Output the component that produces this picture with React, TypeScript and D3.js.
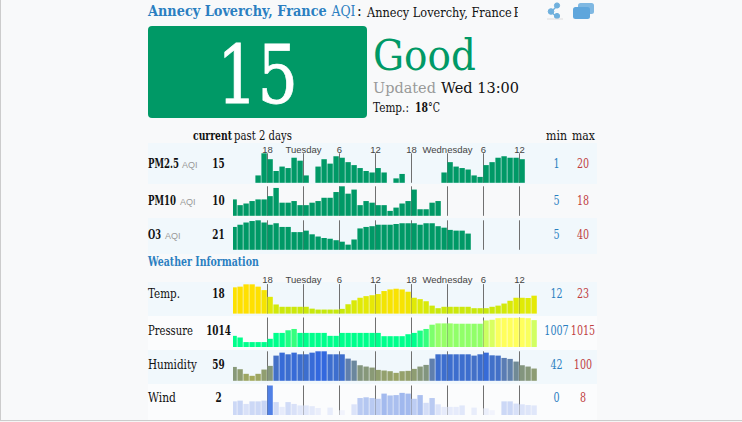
import React from "react";
import * as d3 from "d3";

const pm25: (number | null)[] = [null,null,null,null,5,20,16,8,11,10,17,15,5,null,11,16,13,18,17,14,12,10,8,7,10,7,null,3,6,null,null,null,null,null,null,7,14,11,10,9,5,4,12,14,17,18,17,17,16];
const pm10: number[] = [10,6.5,7.5,9,10,10,12,17,8,8,9,6.5,6.5,8,9,11,11,14.5,18,13.5,16,6.5,9,8,6.5,6.5,3,5,7.5,9,16,4,4,8,9];
const o3: number[] = [31,34,37,39,40,37,34,36,31,31,24,24,26,21,18,16,15,13,11,7,14,29,31,32,34,34,34,35,36,36,36,34,36,36,32,30,27,26,26,22];
const temp: number[] = [21.6,21.9,22.9,22.9,21.9,20.4,17.5,14.2,13.2,13.2,13.2,13.2,13.2,12.4,12,12,12,12,12.3,14.3,16,17.1,17.8,18.2,18.7,20,20.7,21,20.7,19.7,17.1,16.5,15.6,13.7,12.6,13.2,13.2,13.2,13.2,13.2,12.6,12.6,12.6,13.2,13.7,14.6,15.8,17.1,17.1,17,18];
const pressure: number[] = [1009.4,1008.9,1007.5,1007.5,1007.5,1007.5,1008.5,1010.3,1010.3,1011.1,1011.5,1010.3,1010.3,1010.3,1010.3,1010.3,1009.4,1009.4,1010.3,1010.3,1010.3,1010.3,1010.3,1010.3,1010.3,1009.3,1009.3,1009.3,1009.3,1009.9,1010.3,1011,1011.5,1012.8,1013.2,1013.2,1013.2,1013.1,1013.1,1013.1,1013.1,1013.1,1014.1,1014.3,1014.8,1014.9,1014.9,1014.9,1014.9,1014.8,1014.2];
const humidity: number[] = [63,57.6,46.7,42,46.7,56.8,65.5,89.8,96.8,92.9,96.8,92.9,92.9,96.8,100,100,92.9,92.9,92.9,82.7,78,67,63.9,61.5,56,54.5,52.9,49,52.9,53.7,58.4,63.9,67.8,82.7,92.9,92.9,92.9,92.9,92.9,92.9,89.8,92.9,96.8,90.5,89.8,84.3,82,75.7,67,63.9,59.2];
const wind: (number | null)[] = [3.7,3.9,3,3.7,3.7,3.9,8,3.5,2.2,3.5,3,2.6,2.6,2.4,1.9,null,2,null,1.3,null,2.9,4.6,4.8,4.6,4.4,5.8,5.3,5.4,6,5.8,4.4,5.4,3.3,4.6,2.9,2.2,2.2,2.2,2.6,null,2,null,1.8,1.3,null,3.7,3.7,3.1,2.9,2.7,2.6];

const tickHours = [6, 12, 18, 24, 30, 36, 42, 48];
const tickLabels = ["18", "Tuesday", "6", "12", "18", "Wednesday", "6", "12"];

const title = "Annecy Loverchy, France";
const aqiValue = "15";
const aqiLabel = "Good";

const serif = "'DejaVu Serif', serif";
const sans = "'Liberation Sans', Arial, sans-serif";
const BLUE = "#2b7fc1";
const RED = "#c0403f";
const GREEN = "#009966";

const x = d3.scaleLinear().domain([0, 51]).range([231, 537]);
const barW = 5.4;

const green = () => GREEN;
const tempColor = d3.scaleLinear<string>().domain([12, 17.5, 22]).range(["#c6e80c", "#e2ea06", "#ffe000"]).clamp(true);
const presColor = d3.scaleLinear<string>().domain([1010.5, 1012.8, 1013.2, 1014.1, 1014.9]).range(["#00ff8c", "#7dff6c", "#97ff68", "#ccff62", "#ffff5c"]).clamp(true);
const humColor = d3.scaleLinear<string>().domain([42, 70, 83, 90, 100]).range(["#a3aa5c", "#7f9382", "#5f7fae", "#4270c8", "#3268de"]).clamp(true);
const windColor = d3.scaleLinear<string>().domain([1, 2.5, 3.7, 5, 6, 8]).range(["#f5f6fd", "#e2e8fa", "#ccd8f6", "#b0c4f0", "#a0b8ee", "#5080e6"]).clamp(true);

type RowDef = {
  values: (number | null)[];
  base: number;
  domain: [number, number];
  color: (v: number) => string;
};
const H = 29.5;
const rows: RowDef[] = [
  { values: pm25, base: 182.8, domain: [0, 20], color: green },
  { values: pm10, base: 215.8, domain: [0, 18], color: green },
  { values: o3, base: 249.8, domain: [0, 40], color: green },
  { values: temp, base: 313.6, domain: [10.26, 23], color: tempColor },
  { values: pressure, base: 347, domain: [1006, 1015], color: presColor },
  { values: humidity, base: 380.8, domain: [30.2, 100], color: humColor },
  { values: wind, base: 415, domain: [0, 8], color: windColor },
];

const ctx = document.createElement("canvas").getContext("2d")!;
function natural(t: string, size: number, bold: boolean | undefined, font: string) {
  ctx.font = `${bold ? 700 : 400} ${size}px ${font}`;
  return ctx.measureText(t).width;
}

type T = { t: string; x: number; y: number; w?: number; size?: number; bold?: boolean; fill?: string; font?: string; anchor?: "start" | "middle"; stroke?: number };
const Txt = ({ t, x: tx, y, w, size = 12, bold, fill = "#111", font = serif, anchor = "start", stroke }: T) => {
  const sx = w ? w / natural(t, size, bold, font) : 1;
  return (
    <text transform={`translate(${tx},${y}) scale(${sx},1)`} fontSize={size} fontFamily={font} fontWeight={bold ? 700 : 400} fill={fill} textAnchor={anchor}
      {...(stroke ? { stroke: fill, strokeWidth: stroke } : {})}>{t}</text>
  );
};

const sideRows = [
  { label: "PM2.5", w: 31, aqiX: 182, y: 167.7, cur: "15", min: "1", max: "20", bold: true },
  { label: "PM10", w: 28, aqiX: 180, y: 205, cur: "10", min: "5", max: "18", bold: true },
  { label: "O3", w: 13, aqiX: 165, y: 239, cur: "21", min: "5", max: "40", bold: true },
  { label: "Temp.", w: 32, y: 297.7, cur: "18", min: "12", max: "23" },
  { label: "Pressure", w: 45, y: 334.7, cur: "1014", min: "1007", max: "1015" },
  { label: "Humidity", w: 49, y: 368.7, cur: "59", min: "42", max: "100" },
  { label: "Wind", w: 28, y: 402.3, cur: "2", min: "0", max: "8" },
];

export default function App() {
  return (
    <svg width={742} height={422} style={{ position: "fixed", left: 0, top: 0 }}>
      <defs>
        <clipPath id="plot"><rect x={233} y={140} width={304} height={280} /></clipPath>
        <clipPath id="hdr"><rect x={360} y={0} width={158} height={24} /></clipPath>
      </defs>
      <rect width={742} height={422} fill="#ffffff" />
      <rect x={1} y={0} width={741} height={420} fill="#f8f9fa" />
      <rect x={0} y={0} width={1} height={421} fill="#cccccc" />
      <rect x={0} y={420} width={742} height={1.2} fill="#cccccc" />

      {[[143, 41], [218, 36], [282, 34], [350, 34]].map(([y, h]) => (
        <rect key={y} x={148} y={y} width={449} height={h} fill="#f1f8fc" />
      ))}
      {[[316, 34], [384, 36]].map(([y, h]) => (
        <rect key={y} x={148} y={y} width={449} height={h} fill="#fbfcfd" />
      ))}

      <Txt t={title} x={148} y={16} w={179} size={15} bold fill={BLUE} />
      <Txt t="AQI" x={331.5} y={16} w={24} size={15} fill={BLUE} />
      <Txt t=":" x={357} y={16} size={14} fill="#111" />
      <g clipPath="url(#hdr)">
        <Txt t={title} x={367} y={17} w={145} size={13.5} />
        <Txt t="Pollution" x={513.5} y={17} w={54} size={13.5} />
      </g>

      <g fill="#6fb0dd" stroke="#6fb0dd">
        <line x1={557} y1={6} x2={551} y2={12} strokeWidth={1.5} />
        <line x1={551} y1={12} x2={557} y2={17} strokeWidth={1.5} />
        <circle cx={557} cy={5.5} r={2.6} />
        <circle cx={551} cy={11.5} r={2.8} />
        <circle cx={557} cy={16} r={2.6} />
      </g>
      <rect x={547} y={18.5} width={16} height={1} fill="#dddddd" />
      <rect x={578} y={3} width={16} height={11} rx={2.5} fill="#7fb8e2" />
      <rect x={573} y={7} width={17} height={12} rx={2.5} fill="#5fa6dc" />

      <rect x={148} y={26} width={219} height={92} rx={4} fill={GREEN} />
      <Txt t={aqiValue} x={217} y={103} w={81} size={80} fill="#fff" stroke={0.8} />
      <Txt t={aqiLabel} x={373} y={69.5} w={103} size={43} fill={GREEN} />
      <Txt t="Updated" x={373} y={92.7} w={63} size={14.5} fill="#999" />
      <Txt t="Wed 13:00" x={441} y={92.7} w={78} size={14.5} />
      <Txt t="Temp.:" x={373} y={112} w={36} size={12} />
      <Txt t="18" x={415} y={112} w={13} size={12} bold />
      <Txt t="°C" x={428} y={112} w={12} size={12} />

      <Txt t="current" x={193} y={140} w={39} size={12} bold />
      <Txt t="past 2 days" x={234} y={140} w={58} size={12} />
      <Txt t="min" x={546} y={140} w={21} size={12} />
      <Txt t="max" x={572} y={140} w={23} size={12} />

      <Txt t="Weather Information" x={148} y={265.7} w={111} size={12} bold fill={BLUE} />

      {[152.5, 283.3].map((y) =>
        tickHours.map((h, i) => (
          <text key={y + "-" + h} x={x(h) + 0.5} y={y} textAnchor="middle" fontFamily={sans} fontSize={9.5} fill="#444">{tickLabels[i]}</text>
        ))
      )}

      {sideRows.map((r) => (
        <g key={r.label}>
          <Txt t={r.label} x={148} y={r.y} w={r.w} size={12} bold={r.bold} />
          {r.aqiX ? <text x={r.aqiX} y={r.y} fontFamily={sans} fontSize={9} fill="#999">AQI</text> : null}
          <Txt t={r.cur} x={218.5} y={r.y} w={r.cur.length * 6.2} size={12} bold anchor="middle" />
          <Txt t={r.min} x={556.5} y={r.y} w={r.min.length * 6.1} size={12} fill={BLUE} anchor="middle" />
          <Txt t={r.max} x={583} y={r.y} w={r.max.length * 6.1} size={12} fill={RED} anchor="middle" />
        </g>
      ))}

      <g clipPath="url(#plot)">
        {rows.map((r, ri) => {
          const y = d3.scaleLinear().domain(r.domain).range([r.base, r.base - H]);
          return (
            <g key={ri}>
              {tickHours.map((h) => (
                <line key={h} x1={x(h) + 0.5} x2={x(h) + 0.5} y1={r.base - H} y2={r.base} stroke="#707070" strokeWidth={1} />
              ))}
              {r.values.map((v, i) =>
                v == null ? null : (
                  <rect key={i} x={x(i) + 0.4} y={y(v)} width={barW} height={r.base - y(v)} fill={r.color(v)} />
                )
              )}
            </g>
          );
        })}
      </g>
    </svg>
  );
}
